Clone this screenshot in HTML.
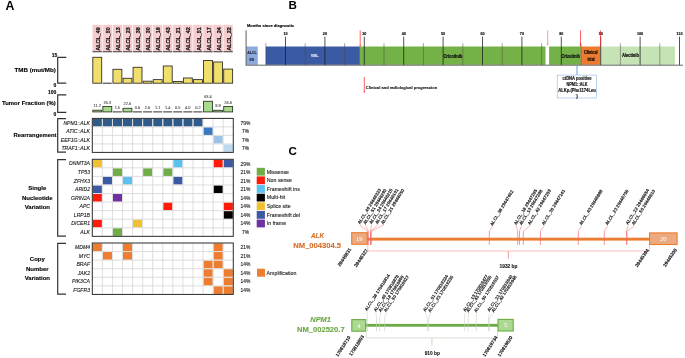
<!DOCTYPE html>
<html><head><meta charset="utf-8"><style>
html,body{margin:0;padding:0;background:#fff;}
svg{display:block;will-change:transform;}
text{font-family:"Liberation Sans", sans-serif;}
</style></head><body>
<svg width="685" height="358" viewBox="0 0 685 358">
<rect width="685" height="358" fill="#fff"/>
<text x="5.50" y="9.60" font-size="12.3" font-weight="bold" font-style="normal" text-anchor="start" fill="#000" >A</text>
<text x="288.60" y="9.25" font-size="11.6" font-weight="bold" font-style="normal" text-anchor="start" fill="#000" >B</text>
<text x="288.40" y="155.10" font-size="11.6" font-weight="bold" font-style="normal" text-anchor="start" fill="#000" >C</text>
<rect x="92.50" y="24.80" width="9.40" height="26.40" fill="#f6cdcf" stroke="none" stroke-width="0" />
<rect x="92.50" y="51.10" width="9.40" height="1.20" fill="#5a5052" stroke="none" stroke-width="0" />
<text transform="translate(99.80,50.7) rotate(-90)" font-size="5.8" font-weight="bold" fill="#111" stroke="#111" stroke-width="0.2" textLength="23.6" lengthAdjust="spacingAndGlyphs">ALCL_49</text>
<rect x="102.57" y="24.80" width="9.40" height="26.40" fill="#f6cdcf" stroke="none" stroke-width="0" />
<rect x="102.57" y="51.10" width="9.40" height="1.20" fill="#5a5052" stroke="none" stroke-width="0" />
<text transform="translate(109.87,50.7) rotate(-90)" font-size="5.8" font-weight="bold" fill="#111" stroke="#111" stroke-width="0.2" textLength="23.6" lengthAdjust="spacingAndGlyphs">ALCL_50</text>
<rect x="112.64" y="24.80" width="9.40" height="26.40" fill="#f6cdcf" stroke="none" stroke-width="0" />
<rect x="112.64" y="51.10" width="9.40" height="1.20" fill="#5a5052" stroke="none" stroke-width="0" />
<text transform="translate(119.94,50.7) rotate(-90)" font-size="5.8" font-weight="bold" fill="#111" stroke="#111" stroke-width="0.2" textLength="23.6" lengthAdjust="spacingAndGlyphs">ALCL_13</text>
<rect x="122.71" y="24.80" width="9.40" height="26.40" fill="#f6cdcf" stroke="none" stroke-width="0" />
<rect x="122.71" y="51.10" width="9.40" height="1.20" fill="#5a5052" stroke="none" stroke-width="0" />
<text transform="translate(130.01,50.7) rotate(-90)" font-size="5.8" font-weight="bold" fill="#111" stroke="#111" stroke-width="0.2" textLength="23.6" lengthAdjust="spacingAndGlyphs">ALCL_23</text>
<rect x="132.78" y="24.80" width="9.40" height="26.40" fill="#f6cdcf" stroke="none" stroke-width="0" />
<rect x="132.78" y="51.10" width="9.40" height="1.20" fill="#5a5052" stroke="none" stroke-width="0" />
<text transform="translate(140.08,50.7) rotate(-90)" font-size="5.8" font-weight="bold" fill="#111" stroke="#111" stroke-width="0.2" textLength="23.6" lengthAdjust="spacingAndGlyphs">ALCL_38</text>
<rect x="142.85" y="24.80" width="9.40" height="26.40" fill="#f6cdcf" stroke="none" stroke-width="0" />
<rect x="142.85" y="51.10" width="9.40" height="1.20" fill="#5a5052" stroke="none" stroke-width="0" />
<text transform="translate(150.15,50.7) rotate(-90)" font-size="5.8" font-weight="bold" fill="#111" stroke="#111" stroke-width="0.2" textLength="23.6" lengthAdjust="spacingAndGlyphs">ALCL_30</text>
<rect x="152.92" y="24.80" width="9.40" height="26.40" fill="#f6cdcf" stroke="none" stroke-width="0" />
<rect x="152.92" y="51.10" width="9.40" height="1.20" fill="#5a5052" stroke="none" stroke-width="0" />
<text transform="translate(160.22,50.7) rotate(-90)" font-size="5.8" font-weight="bold" fill="#111" stroke="#111" stroke-width="0.2" textLength="23.6" lengthAdjust="spacingAndGlyphs">ALCL_18</text>
<rect x="162.99" y="24.80" width="9.40" height="26.40" fill="#f6cdcf" stroke="none" stroke-width="0" />
<rect x="162.99" y="51.10" width="9.40" height="1.20" fill="#5a5052" stroke="none" stroke-width="0" />
<text transform="translate(170.29,50.7) rotate(-90)" font-size="5.8" font-weight="bold" fill="#111" stroke="#111" stroke-width="0.2" textLength="23.6" lengthAdjust="spacingAndGlyphs">ALCL_43</text>
<rect x="173.06" y="24.80" width="9.40" height="26.40" fill="#f6cdcf" stroke="none" stroke-width="0" />
<rect x="173.06" y="51.10" width="9.40" height="1.20" fill="#5a5052" stroke="none" stroke-width="0" />
<text transform="translate(180.36,50.7) rotate(-90)" font-size="5.8" font-weight="bold" fill="#111" stroke="#111" stroke-width="0.2" textLength="23.6" lengthAdjust="spacingAndGlyphs">ALCL_21</text>
<rect x="183.13" y="24.80" width="9.40" height="26.40" fill="#f6cdcf" stroke="none" stroke-width="0" />
<rect x="183.13" y="51.10" width="9.40" height="1.20" fill="#5a5052" stroke="none" stroke-width="0" />
<text transform="translate(190.43,50.7) rotate(-90)" font-size="5.8" font-weight="bold" fill="#111" stroke="#111" stroke-width="0.2" textLength="23.6" lengthAdjust="spacingAndGlyphs">ALCL_42</text>
<rect x="193.20" y="24.80" width="9.40" height="26.40" fill="#f6cdcf" stroke="none" stroke-width="0" />
<rect x="193.20" y="51.10" width="9.40" height="1.20" fill="#5a5052" stroke="none" stroke-width="0" />
<text transform="translate(200.50,50.7) rotate(-90)" font-size="5.8" font-weight="bold" fill="#111" stroke="#111" stroke-width="0.2" textLength="23.6" lengthAdjust="spacingAndGlyphs">ALCL_51</text>
<rect x="203.27" y="24.80" width="9.40" height="26.40" fill="#f6cdcf" stroke="none" stroke-width="0" />
<rect x="203.27" y="51.10" width="9.40" height="1.20" fill="#5a5052" stroke="none" stroke-width="0" />
<text transform="translate(210.57,50.7) rotate(-90)" font-size="5.8" font-weight="bold" fill="#111" stroke="#111" stroke-width="0.2" textLength="23.6" lengthAdjust="spacingAndGlyphs">ALCL_17</text>
<rect x="213.34" y="24.80" width="9.40" height="26.40" fill="#f6cdcf" stroke="none" stroke-width="0" />
<rect x="213.34" y="51.10" width="9.40" height="1.20" fill="#5a5052" stroke="none" stroke-width="0" />
<text transform="translate(220.64,50.7) rotate(-90)" font-size="5.8" font-weight="bold" fill="#111" stroke="#111" stroke-width="0.2" textLength="23.6" lengthAdjust="spacingAndGlyphs">ALCL_24</text>
<rect x="223.41" y="24.80" width="9.40" height="26.40" fill="#f6cdcf" stroke="none" stroke-width="0" />
<rect x="223.41" y="51.10" width="9.40" height="1.20" fill="#5a5052" stroke="none" stroke-width="0" />
<text transform="translate(230.71,50.7) rotate(-90)" font-size="5.8" font-weight="bold" fill="#111" stroke="#111" stroke-width="0.2" textLength="23.6" lengthAdjust="spacingAndGlyphs">ALCL_22</text>
<rect x="92.80" y="57.30" width="8.90" height="25.90" fill="#f1df6b" stroke="#34322a" stroke-width="0.9" />
<line x1="102.77" y1="83.20" x2="111.77" y2="83.20" stroke="#2a2a2a" stroke-width="1.0" />
<rect x="112.94" y="69.30" width="8.90" height="13.90" fill="#f1df6b" stroke="#34322a" stroke-width="0.9" />
<rect x="123.01" y="78.30" width="8.90" height="4.90" fill="#f1df6b" stroke="#34322a" stroke-width="0.9" />
<rect x="133.08" y="67.30" width="8.90" height="15.90" fill="#f1df6b" stroke="#34322a" stroke-width="0.9" />
<rect x="143.15" y="81.20" width="8.90" height="2.00" fill="#f1df6b" stroke="#34322a" stroke-width="0.9" />
<rect x="153.22" y="79.60" width="8.90" height="3.60" fill="#f1df6b" stroke="#34322a" stroke-width="0.9" />
<rect x="163.29" y="66.00" width="8.90" height="17.20" fill="#f1df6b" stroke="#34322a" stroke-width="0.9" />
<rect x="173.36" y="81.50" width="8.90" height="1.70" fill="#f1df6b" stroke="#34322a" stroke-width="0.9" />
<rect x="183.43" y="78.00" width="8.90" height="5.20" fill="#f1df6b" stroke="#34322a" stroke-width="0.9" />
<rect x="193.50" y="79.60" width="8.90" height="3.60" fill="#f1df6b" stroke="#34322a" stroke-width="0.9" />
<rect x="203.57" y="60.50" width="8.90" height="22.70" fill="#f1df6b" stroke="#34322a" stroke-width="0.9" />
<rect x="213.64" y="62.00" width="8.90" height="21.20" fill="#f1df6b" stroke="#34322a" stroke-width="0.9" />
<rect x="223.71" y="69.10" width="8.90" height="14.10" fill="#f1df6b" stroke="#34322a" stroke-width="0.9" />
<polyline points="66.30,57.30 57.70,57.30 57.70,83.20 66.30,83.20" fill="none" stroke="#333" stroke-width="1.2"/>
<text x="57.20" y="56.80" font-size="5.0" font-weight="bold" font-style="normal" text-anchor="end" fill="#000" stroke="#000" stroke-width="0.12" >15</text>
<text x="56.30" y="87.40" font-size="5.0" font-weight="bold" font-style="normal" text-anchor="end" fill="#000" stroke="#000" stroke-width="0.12" >0</text>
<text x="55.80" y="72.20" font-size="6.2" font-weight="bold" font-style="normal" text-anchor="end" fill="#000" stroke="#000" stroke-width="0.12" >TMB (mut/Mb)</text>
<rect x="92.80" y="110.20" width="8.90" height="1.70" fill="#a9db8c" stroke="#2e3a2a" stroke-width="0.9" />
<text x="97.20" y="107.20" font-size="3.9" font-weight="normal" font-style="normal" text-anchor="middle" fill="#555" stroke="#555" stroke-width="0.12" >11.2</text>
<rect x="102.87" y="106.50" width="8.90" height="5.40" fill="#a9db8c" stroke="#2e3a2a" stroke-width="0.9" />
<text x="107.27" y="103.50" font-size="3.9" font-weight="normal" font-style="normal" text-anchor="middle" fill="#555" stroke="#555" stroke-width="0.12" >35.3</text>
<line x1="112.84" y1="111.90" x2="121.84" y2="111.90" stroke="#2f2f2f" stroke-width="1.0" />
<text x="117.34" y="108.90" font-size="3.9" font-weight="normal" font-style="normal" text-anchor="middle" fill="#555" stroke="#555" stroke-width="0.12" >1.5</text>
<rect x="123.01" y="108.30" width="8.90" height="3.60" fill="#a9db8c" stroke="#2e3a2a" stroke-width="0.9" />
<text x="127.41" y="105.30" font-size="3.9" font-weight="normal" font-style="normal" text-anchor="middle" fill="#555" stroke="#555" stroke-width="0.12" >22.6</text>
<line x1="132.98" y1="111.90" x2="141.98" y2="111.90" stroke="#2f2f2f" stroke-width="1.0" />
<text x="137.48" y="108.90" font-size="3.9" font-weight="normal" font-style="normal" text-anchor="middle" fill="#555" stroke="#555" stroke-width="0.12" >0.6</text>
<line x1="143.05" y1="111.90" x2="152.05" y2="111.90" stroke="#2f2f2f" stroke-width="1.0" />
<text x="147.55" y="108.90" font-size="3.9" font-weight="normal" font-style="normal" text-anchor="middle" fill="#555" stroke="#555" stroke-width="0.12" >2.6</text>
<line x1="153.12" y1="111.90" x2="162.12" y2="111.90" stroke="#2f2f2f" stroke-width="1.0" />
<text x="157.62" y="108.90" font-size="3.9" font-weight="normal" font-style="normal" text-anchor="middle" fill="#555" stroke="#555" stroke-width="0.12" >1.1</text>
<line x1="163.19" y1="111.90" x2="172.19" y2="111.90" stroke="#2f2f2f" stroke-width="1.0" />
<text x="167.69" y="108.90" font-size="3.9" font-weight="normal" font-style="normal" text-anchor="middle" fill="#555" stroke="#555" stroke-width="0.12" >1.4</text>
<line x1="173.26" y1="111.90" x2="182.26" y2="111.90" stroke="#2f2f2f" stroke-width="1.0" />
<text x="177.76" y="108.90" font-size="3.9" font-weight="normal" font-style="normal" text-anchor="middle" fill="#555" stroke="#555" stroke-width="0.12" >0.5</text>
<line x1="183.33" y1="111.90" x2="192.33" y2="111.90" stroke="#2f2f2f" stroke-width="1.0" />
<text x="187.83" y="108.90" font-size="3.9" font-weight="normal" font-style="normal" text-anchor="middle" fill="#555" stroke="#555" stroke-width="0.12" >4.0</text>
<line x1="193.40" y1="111.90" x2="202.40" y2="111.90" stroke="#2f2f2f" stroke-width="1.0" />
<text x="197.90" y="108.90" font-size="3.9" font-weight="normal" font-style="normal" text-anchor="middle" fill="#555" stroke="#555" stroke-width="0.12" >0.2</text>
<rect x="203.57" y="101.30" width="8.90" height="10.60" fill="#a9db8c" stroke="#2e3a2a" stroke-width="0.9" />
<text x="207.97" y="98.30" font-size="3.9" font-weight="normal" font-style="normal" text-anchor="middle" fill="#555" stroke="#555" stroke-width="0.12" >63.4</text>
<rect x="213.64" y="110.30" width="8.90" height="1.60" fill="#a9db8c" stroke="#2e3a2a" stroke-width="0.9" />
<text x="218.04" y="107.30" font-size="3.9" font-weight="normal" font-style="normal" text-anchor="middle" fill="#555" stroke="#555" stroke-width="0.12" >9.9</text>
<rect x="223.71" y="106.50" width="8.90" height="5.40" fill="#a9db8c" stroke="#2e3a2a" stroke-width="0.9" />
<text x="228.11" y="103.50" font-size="3.9" font-weight="normal" font-style="normal" text-anchor="middle" fill="#555" stroke="#555" stroke-width="0.12" >26.6</text>
<polyline points="66.30,94.90 57.70,94.90 57.70,112.30 66.30,112.30" fill="none" stroke="#333" stroke-width="1.2"/>
<text x="56.30" y="94.20" font-size="5.0" font-weight="bold" font-style="normal" text-anchor="end" fill="#000" stroke="#000" stroke-width="0.12" >100</text>
<text x="56.30" y="116.40" font-size="5.0" font-weight="bold" font-style="normal" text-anchor="end" fill="#000" stroke="#000" stroke-width="0.12" >0</text>
<text x="55.80" y="105.20" font-size="5.92" font-weight="bold" font-style="normal" text-anchor="end" fill="#000" stroke="#000" stroke-width="0.12" >Tumor Fraction (%)</text>
<rect x="92.75" y="118.85" width="9.17" height="7.60" fill="#2f5b8b" stroke="none" stroke-width="0" />
<rect x="102.82" y="118.85" width="9.17" height="7.60" fill="#2f5b8b" stroke="none" stroke-width="0" />
<rect x="112.89" y="118.85" width="9.17" height="7.60" fill="#2f5b8b" stroke="none" stroke-width="0" />
<rect x="122.96" y="118.85" width="9.17" height="7.60" fill="#2f5b8b" stroke="none" stroke-width="0" />
<rect x="133.03" y="118.85" width="9.17" height="7.60" fill="#2f5b8b" stroke="none" stroke-width="0" />
<rect x="143.10" y="118.85" width="9.17" height="7.60" fill="#2f5b8b" stroke="none" stroke-width="0" />
<rect x="153.17" y="118.85" width="9.17" height="7.60" fill="#2f5b8b" stroke="none" stroke-width="0" />
<rect x="163.24" y="118.85" width="9.17" height="7.60" fill="#2f5b8b" stroke="none" stroke-width="0" />
<rect x="173.31" y="118.85" width="9.17" height="7.60" fill="#2f5b8b" stroke="none" stroke-width="0" />
<rect x="183.38" y="118.85" width="9.17" height="7.60" fill="#2f5b8b" stroke="none" stroke-width="0" />
<rect x="193.45" y="118.85" width="9.17" height="7.60" fill="#2f5b8b" stroke="none" stroke-width="0" />
<rect x="203.52" y="127.35" width="9.17" height="7.60" fill="#3c77c1" stroke="none" stroke-width="0" />
<rect x="213.59" y="135.85" width="9.17" height="7.60" fill="#9cc3e6" stroke="none" stroke-width="0" />
<rect x="223.66" y="144.35" width="9.17" height="7.60" fill="#bed8ef" stroke="none" stroke-width="0" />
<line x1="102.37" y1="118.40" x2="102.37" y2="152.40" stroke="#d6d6d6" stroke-width="0.8" />
<line x1="112.44" y1="118.40" x2="112.44" y2="152.40" stroke="#d6d6d6" stroke-width="0.8" />
<line x1="122.51" y1="118.40" x2="122.51" y2="152.40" stroke="#d6d6d6" stroke-width="0.8" />
<line x1="132.58" y1="118.40" x2="132.58" y2="152.40" stroke="#d6d6d6" stroke-width="0.8" />
<line x1="142.65" y1="118.40" x2="142.65" y2="152.40" stroke="#d6d6d6" stroke-width="0.8" />
<line x1="152.72" y1="118.40" x2="152.72" y2="152.40" stroke="#d6d6d6" stroke-width="0.8" />
<line x1="162.79" y1="118.40" x2="162.79" y2="152.40" stroke="#d6d6d6" stroke-width="0.8" />
<line x1="172.86" y1="118.40" x2="172.86" y2="152.40" stroke="#d6d6d6" stroke-width="0.8" />
<line x1="182.93" y1="118.40" x2="182.93" y2="152.40" stroke="#d6d6d6" stroke-width="0.8" />
<line x1="193.00" y1="118.40" x2="193.00" y2="152.40" stroke="#d6d6d6" stroke-width="0.8" />
<line x1="203.07" y1="118.40" x2="203.07" y2="152.40" stroke="#d6d6d6" stroke-width="0.8" />
<line x1="213.14" y1="118.40" x2="213.14" y2="152.40" stroke="#d6d6d6" stroke-width="0.8" />
<line x1="223.21" y1="118.40" x2="223.21" y2="152.40" stroke="#d6d6d6" stroke-width="0.8" />
<line x1="92.30" y1="126.90" x2="233.28" y2="126.90" stroke="#d6d6d6" stroke-width="0.8" />
<line x1="92.30" y1="135.40" x2="233.28" y2="135.40" stroke="#d6d6d6" stroke-width="0.8" />
<line x1="92.30" y1="143.90" x2="233.28" y2="143.90" stroke="#d6d6d6" stroke-width="0.8" />
<rect x="92.30" y="118.40" width="140.98" height="34.00" fill="none" stroke="#2b2b2b" stroke-width="1.0" />
<text x="90.00" y="124.50" font-size="5.1" font-weight="normal" font-style="italic" text-anchor="end" fill="#222" stroke="#222" stroke-width="0.12" >NPM1::ALK</text>
<text x="245.50" y="124.60" font-size="4.9" font-weight="normal" font-style="normal" text-anchor="middle" fill="#222" stroke="#222" stroke-width="0.12" >79%</text>
<text x="90.00" y="133.00" font-size="5.1" font-weight="normal" font-style="italic" text-anchor="end" fill="#222" stroke="#222" stroke-width="0.12" >ATIC::ALK</text>
<text x="245.50" y="133.10" font-size="4.9" font-weight="normal" font-style="normal" text-anchor="middle" fill="#222" stroke="#222" stroke-width="0.12" >7%</text>
<text x="90.00" y="141.50" font-size="5.1" font-weight="normal" font-style="italic" text-anchor="end" fill="#222" stroke="#222" stroke-width="0.12" >EEF1G::ALK</text>
<text x="245.50" y="141.60" font-size="4.9" font-weight="normal" font-style="normal" text-anchor="middle" fill="#222" stroke="#222" stroke-width="0.12" >7%</text>
<text x="90.00" y="150.00" font-size="5.1" font-weight="normal" font-style="italic" text-anchor="end" fill="#222" stroke="#222" stroke-width="0.12" >TRAF1::ALK</text>
<text x="245.50" y="150.10" font-size="4.9" font-weight="normal" font-style="normal" text-anchor="middle" fill="#222" stroke="#222" stroke-width="0.12" >7%</text>
<polyline points="66.00,118.70 57.70,118.70 57.70,152.10 66.00,152.10" fill="none" stroke="#333" stroke-width="1.2"/>
<text x="35.00" y="137.00" font-size="5.85" font-weight="bold" font-style="normal" text-anchor="middle" fill="#000" stroke="#000" stroke-width="0.12" >Rearrangement</text>
<rect x="92.75" y="159.75" width="9.17" height="7.66" fill="#f0c030" stroke="none" stroke-width="0" />
<rect x="173.31" y="159.75" width="9.17" height="7.66" fill="#5bc1ef" stroke="none" stroke-width="0" />
<rect x="213.59" y="159.75" width="9.17" height="7.66" fill="#ff1a0a" stroke="none" stroke-width="0" />
<rect x="223.66" y="159.75" width="9.17" height="7.66" fill="#3b5aa3" stroke="none" stroke-width="0" />
<rect x="112.89" y="168.31" width="9.17" height="7.66" fill="#70ad47" stroke="none" stroke-width="0" />
<rect x="143.10" y="168.31" width="9.17" height="7.66" fill="#70ad47" stroke="none" stroke-width="0" />
<rect x="163.24" y="168.31" width="9.17" height="7.66" fill="#70ad47" stroke="none" stroke-width="0" />
<rect x="102.82" y="176.87" width="9.17" height="7.66" fill="#3b5aa3" stroke="none" stroke-width="0" />
<rect x="122.96" y="176.87" width="9.17" height="7.66" fill="#5bc1ef" stroke="none" stroke-width="0" />
<rect x="173.31" y="176.87" width="9.17" height="7.66" fill="#3b5aa3" stroke="none" stroke-width="0" />
<rect x="92.75" y="185.43" width="9.17" height="7.66" fill="#3b5aa3" stroke="none" stroke-width="0" />
<rect x="213.59" y="185.43" width="9.17" height="7.66" fill="#000000" stroke="none" stroke-width="0" />
<rect x="92.75" y="193.99" width="9.17" height="7.66" fill="#ff1a0a" stroke="none" stroke-width="0" />
<rect x="112.89" y="193.99" width="9.17" height="7.66" fill="#7030a0" stroke="none" stroke-width="0" />
<rect x="163.24" y="202.55" width="9.17" height="7.66" fill="#ff1a0a" stroke="none" stroke-width="0" />
<rect x="223.66" y="202.55" width="9.17" height="7.66" fill="#ff1a0a" stroke="none" stroke-width="0" />
<rect x="223.66" y="211.11" width="9.17" height="7.66" fill="#000000" stroke="none" stroke-width="0" />
<rect x="92.75" y="219.67" width="9.17" height="7.66" fill="#ff1a0a" stroke="none" stroke-width="0" />
<rect x="133.03" y="219.67" width="9.17" height="7.66" fill="#f0c030" stroke="none" stroke-width="0" />
<rect x="112.89" y="228.23" width="9.17" height="7.66" fill="#70ad47" stroke="none" stroke-width="0" />
<line x1="102.37" y1="159.30" x2="102.37" y2="236.34" stroke="#d6d6d6" stroke-width="0.8" />
<line x1="112.44" y1="159.30" x2="112.44" y2="236.34" stroke="#d6d6d6" stroke-width="0.8" />
<line x1="122.51" y1="159.30" x2="122.51" y2="236.34" stroke="#d6d6d6" stroke-width="0.8" />
<line x1="132.58" y1="159.30" x2="132.58" y2="236.34" stroke="#d6d6d6" stroke-width="0.8" />
<line x1="142.65" y1="159.30" x2="142.65" y2="236.34" stroke="#d6d6d6" stroke-width="0.8" />
<line x1="152.72" y1="159.30" x2="152.72" y2="236.34" stroke="#d6d6d6" stroke-width="0.8" />
<line x1="162.79" y1="159.30" x2="162.79" y2="236.34" stroke="#d6d6d6" stroke-width="0.8" />
<line x1="172.86" y1="159.30" x2="172.86" y2="236.34" stroke="#d6d6d6" stroke-width="0.8" />
<line x1="182.93" y1="159.30" x2="182.93" y2="236.34" stroke="#d6d6d6" stroke-width="0.8" />
<line x1="193.00" y1="159.30" x2="193.00" y2="236.34" stroke="#d6d6d6" stroke-width="0.8" />
<line x1="203.07" y1="159.30" x2="203.07" y2="236.34" stroke="#d6d6d6" stroke-width="0.8" />
<line x1="213.14" y1="159.30" x2="213.14" y2="236.34" stroke="#d6d6d6" stroke-width="0.8" />
<line x1="223.21" y1="159.30" x2="223.21" y2="236.34" stroke="#d6d6d6" stroke-width="0.8" />
<line x1="92.30" y1="167.86" x2="233.28" y2="167.86" stroke="#d6d6d6" stroke-width="0.8" />
<line x1="92.30" y1="176.42" x2="233.28" y2="176.42" stroke="#d6d6d6" stroke-width="0.8" />
<line x1="92.30" y1="184.98" x2="233.28" y2="184.98" stroke="#d6d6d6" stroke-width="0.8" />
<line x1="92.30" y1="193.54" x2="233.28" y2="193.54" stroke="#d6d6d6" stroke-width="0.8" />
<line x1="92.30" y1="202.10" x2="233.28" y2="202.10" stroke="#d6d6d6" stroke-width="0.8" />
<line x1="92.30" y1="210.66" x2="233.28" y2="210.66" stroke="#d6d6d6" stroke-width="0.8" />
<line x1="92.30" y1="219.22" x2="233.28" y2="219.22" stroke="#d6d6d6" stroke-width="0.8" />
<line x1="92.30" y1="227.78" x2="233.28" y2="227.78" stroke="#d6d6d6" stroke-width="0.8" />
<rect x="92.30" y="159.30" width="140.98" height="77.04" fill="none" stroke="#2b2b2b" stroke-width="1.0" />
<text x="90.00" y="165.40" font-size="5.1" font-weight="normal" font-style="italic" text-anchor="end" fill="#222" stroke="#222" stroke-width="0.12" >DNMT3A</text>
<text x="245.50" y="165.50" font-size="4.9" font-weight="normal" font-style="normal" text-anchor="middle" fill="#222" stroke="#222" stroke-width="0.12" >29%</text>
<text x="90.00" y="173.96" font-size="5.1" font-weight="normal" font-style="italic" text-anchor="end" fill="#222" stroke="#222" stroke-width="0.12" >TP53</text>
<text x="245.50" y="174.06" font-size="4.9" font-weight="normal" font-style="normal" text-anchor="middle" fill="#222" stroke="#222" stroke-width="0.12" >21%</text>
<text x="90.00" y="182.52" font-size="5.1" font-weight="normal" font-style="italic" text-anchor="end" fill="#222" stroke="#222" stroke-width="0.12" >ZFHX3</text>
<text x="245.50" y="182.62" font-size="4.9" font-weight="normal" font-style="normal" text-anchor="middle" fill="#222" stroke="#222" stroke-width="0.12" >21%</text>
<text x="90.00" y="191.08" font-size="5.1" font-weight="normal" font-style="italic" text-anchor="end" fill="#222" stroke="#222" stroke-width="0.12" >ARID2</text>
<text x="245.50" y="191.18" font-size="4.9" font-weight="normal" font-style="normal" text-anchor="middle" fill="#222" stroke="#222" stroke-width="0.12" >21%</text>
<text x="90.00" y="199.64" font-size="5.1" font-weight="normal" font-style="italic" text-anchor="end" fill="#222" stroke="#222" stroke-width="0.12" >GRIN2A</text>
<text x="245.50" y="199.74" font-size="4.9" font-weight="normal" font-style="normal" text-anchor="middle" fill="#222" stroke="#222" stroke-width="0.12" >14%</text>
<text x="90.00" y="208.20" font-size="5.1" font-weight="normal" font-style="italic" text-anchor="end" fill="#222" stroke="#222" stroke-width="0.12" >APC</text>
<text x="245.50" y="208.30" font-size="4.9" font-weight="normal" font-style="normal" text-anchor="middle" fill="#222" stroke="#222" stroke-width="0.12" >14%</text>
<text x="90.00" y="216.76" font-size="5.1" font-weight="normal" font-style="italic" text-anchor="end" fill="#222" stroke="#222" stroke-width="0.12" >LRP1B</text>
<text x="245.50" y="216.86" font-size="4.9" font-weight="normal" font-style="normal" text-anchor="middle" fill="#222" stroke="#222" stroke-width="0.12" >14%</text>
<text x="90.00" y="225.32" font-size="5.1" font-weight="normal" font-style="italic" text-anchor="end" fill="#222" stroke="#222" stroke-width="0.12" >DICER1</text>
<text x="245.50" y="225.42" font-size="4.9" font-weight="normal" font-style="normal" text-anchor="middle" fill="#222" stroke="#222" stroke-width="0.12" >14%</text>
<text x="90.00" y="233.88" font-size="5.1" font-weight="normal" font-style="italic" text-anchor="end" fill="#222" stroke="#222" stroke-width="0.12" >ALK</text>
<text x="245.50" y="233.98" font-size="4.9" font-weight="normal" font-style="normal" text-anchor="middle" fill="#222" stroke="#222" stroke-width="0.12" >7%</text>
<polyline points="66.00,159.60 57.70,159.60 57.70,236.04 66.00,236.04" fill="none" stroke="#333" stroke-width="1.2"/>
<text x="37.30" y="189.80" font-size="6.0" font-weight="bold" font-style="normal" text-anchor="middle" fill="#000" stroke="#000" stroke-width="0.12" >Single</text>
<text x="37.30" y="199.50" font-size="6.0" font-weight="bold" font-style="normal" text-anchor="middle" fill="#000" stroke="#000" stroke-width="0.12" >Nucleotide</text>
<text x="37.30" y="209.30" font-size="6.0" font-weight="bold" font-style="normal" text-anchor="middle" fill="#000" stroke="#000" stroke-width="0.12" >Variation</text>
<rect x="92.75" y="243.45" width="9.17" height="7.67" fill="#ed7d31" stroke="none" stroke-width="0" />
<rect x="122.96" y="243.45" width="9.17" height="7.67" fill="#ed7d31" stroke="none" stroke-width="0" />
<rect x="213.59" y="243.45" width="9.17" height="7.67" fill="#ed7d31" stroke="none" stroke-width="0" />
<rect x="102.82" y="252.02" width="9.17" height="7.67" fill="#ed7d31" stroke="none" stroke-width="0" />
<rect x="122.96" y="252.02" width="9.17" height="7.67" fill="#ed7d31" stroke="none" stroke-width="0" />
<rect x="213.59" y="252.02" width="9.17" height="7.67" fill="#ed7d31" stroke="none" stroke-width="0" />
<rect x="203.52" y="260.59" width="9.17" height="7.67" fill="#ed7d31" stroke="none" stroke-width="0" />
<rect x="213.59" y="260.59" width="9.17" height="7.67" fill="#ed7d31" stroke="none" stroke-width="0" />
<rect x="203.52" y="269.16" width="9.17" height="7.67" fill="#ed7d31" stroke="none" stroke-width="0" />
<rect x="223.66" y="269.16" width="9.17" height="7.67" fill="#ed7d31" stroke="none" stroke-width="0" />
<rect x="203.52" y="277.73" width="9.17" height="7.67" fill="#ed7d31" stroke="none" stroke-width="0" />
<rect x="223.66" y="277.73" width="9.17" height="7.67" fill="#ed7d31" stroke="none" stroke-width="0" />
<rect x="213.59" y="286.30" width="9.17" height="7.67" fill="#ed7d31" stroke="none" stroke-width="0" />
<rect x="223.66" y="286.30" width="9.17" height="7.67" fill="#ed7d31" stroke="none" stroke-width="0" />
<line x1="102.37" y1="243.00" x2="102.37" y2="294.42" stroke="#d6d6d6" stroke-width="0.8" />
<line x1="112.44" y1="243.00" x2="112.44" y2="294.42" stroke="#d6d6d6" stroke-width="0.8" />
<line x1="122.51" y1="243.00" x2="122.51" y2="294.42" stroke="#d6d6d6" stroke-width="0.8" />
<line x1="132.58" y1="243.00" x2="132.58" y2="294.42" stroke="#d6d6d6" stroke-width="0.8" />
<line x1="142.65" y1="243.00" x2="142.65" y2="294.42" stroke="#d6d6d6" stroke-width="0.8" />
<line x1="152.72" y1="243.00" x2="152.72" y2="294.42" stroke="#d6d6d6" stroke-width="0.8" />
<line x1="162.79" y1="243.00" x2="162.79" y2="294.42" stroke="#d6d6d6" stroke-width="0.8" />
<line x1="172.86" y1="243.00" x2="172.86" y2="294.42" stroke="#d6d6d6" stroke-width="0.8" />
<line x1="182.93" y1="243.00" x2="182.93" y2="294.42" stroke="#d6d6d6" stroke-width="0.8" />
<line x1="193.00" y1="243.00" x2="193.00" y2="294.42" stroke="#d6d6d6" stroke-width="0.8" />
<line x1="203.07" y1="243.00" x2="203.07" y2="294.42" stroke="#d6d6d6" stroke-width="0.8" />
<line x1="213.14" y1="243.00" x2="213.14" y2="294.42" stroke="#d6d6d6" stroke-width="0.8" />
<line x1="223.21" y1="243.00" x2="223.21" y2="294.42" stroke="#d6d6d6" stroke-width="0.8" />
<line x1="92.30" y1="251.57" x2="233.28" y2="251.57" stroke="#d6d6d6" stroke-width="0.8" />
<line x1="92.30" y1="260.14" x2="233.28" y2="260.14" stroke="#d6d6d6" stroke-width="0.8" />
<line x1="92.30" y1="268.71" x2="233.28" y2="268.71" stroke="#d6d6d6" stroke-width="0.8" />
<line x1="92.30" y1="277.28" x2="233.28" y2="277.28" stroke="#d6d6d6" stroke-width="0.8" />
<line x1="92.30" y1="285.85" x2="233.28" y2="285.85" stroke="#d6d6d6" stroke-width="0.8" />
<rect x="92.30" y="243.00" width="140.98" height="51.42" fill="none" stroke="#2b2b2b" stroke-width="1.0" />
<text x="90.00" y="249.10" font-size="5.1" font-weight="normal" font-style="italic" text-anchor="end" fill="#222" stroke="#222" stroke-width="0.12" >MDM4</text>
<text x="245.50" y="249.20" font-size="4.9" font-weight="normal" font-style="normal" text-anchor="middle" fill="#222" stroke="#222" stroke-width="0.12" >21%</text>
<text x="90.00" y="257.67" font-size="5.1" font-weight="normal" font-style="italic" text-anchor="end" fill="#222" stroke="#222" stroke-width="0.12" >MYC</text>
<text x="245.50" y="257.77" font-size="4.9" font-weight="normal" font-style="normal" text-anchor="middle" fill="#222" stroke="#222" stroke-width="0.12" >21%</text>
<text x="90.00" y="266.24" font-size="5.1" font-weight="normal" font-style="italic" text-anchor="end" fill="#222" stroke="#222" stroke-width="0.12" >BRAF</text>
<text x="245.50" y="266.34" font-size="4.9" font-weight="normal" font-style="normal" text-anchor="middle" fill="#222" stroke="#222" stroke-width="0.12" >14%</text>
<text x="90.00" y="274.81" font-size="5.1" font-weight="normal" font-style="italic" text-anchor="end" fill="#222" stroke="#222" stroke-width="0.12" >JAK2</text>
<text x="245.50" y="274.91" font-size="4.9" font-weight="normal" font-style="normal" text-anchor="middle" fill="#222" stroke="#222" stroke-width="0.12" >14%</text>
<text x="90.00" y="283.38" font-size="5.1" font-weight="normal" font-style="italic" text-anchor="end" fill="#222" stroke="#222" stroke-width="0.12" >PIK3CA</text>
<text x="245.50" y="283.48" font-size="4.9" font-weight="normal" font-style="normal" text-anchor="middle" fill="#222" stroke="#222" stroke-width="0.12" >14%</text>
<text x="90.00" y="291.95" font-size="5.1" font-weight="normal" font-style="italic" text-anchor="end" fill="#222" stroke="#222" stroke-width="0.12" >FGFR3</text>
<text x="245.50" y="292.05" font-size="4.9" font-weight="normal" font-style="normal" text-anchor="middle" fill="#222" stroke="#222" stroke-width="0.12" >14%</text>
<polyline points="66.00,243.30 57.70,243.30 57.70,294.12 66.00,294.12" fill="none" stroke="#333" stroke-width="1.2"/>
<text x="37.30" y="260.90" font-size="6.0" font-weight="bold" font-style="normal" text-anchor="middle" fill="#000" stroke="#000" stroke-width="0.12" >Copy</text>
<text x="37.30" y="270.50" font-size="6.0" font-weight="bold" font-style="normal" text-anchor="middle" fill="#000" stroke="#000" stroke-width="0.12" >Number</text>
<text x="37.30" y="279.90" font-size="6.0" font-weight="bold" font-style="normal" text-anchor="middle" fill="#000" stroke="#000" stroke-width="0.12" >Variation</text>
<rect x="256.70" y="167.80" width="8.20" height="7.80" fill="#70ad47" stroke="none" stroke-width="0" />
<text x="266.80" y="173.60" font-size="5.25" font-weight="normal" font-style="normal" text-anchor="start" fill="#222" stroke="#222" stroke-width="0.12" >Missense</text>
<rect x="256.70" y="176.43" width="8.20" height="7.80" fill="#ff1a0a" stroke="none" stroke-width="0" />
<text x="266.80" y="182.23" font-size="5.25" font-weight="normal" font-style="normal" text-anchor="start" fill="#222" stroke="#222" stroke-width="0.12" >Non sense</text>
<rect x="256.70" y="185.06" width="8.20" height="7.80" fill="#5bc1ef" stroke="none" stroke-width="0" />
<text x="266.80" y="190.86" font-size="5.25" font-weight="normal" font-style="normal" text-anchor="start" fill="#222" stroke="#222" stroke-width="0.12" >Frameshift ins</text>
<rect x="256.70" y="193.69" width="8.20" height="7.80" fill="#000000" stroke="none" stroke-width="0" />
<text x="266.80" y="199.49" font-size="5.25" font-weight="normal" font-style="normal" text-anchor="start" fill="#222" stroke="#222" stroke-width="0.12" >Multi-hit</text>
<rect x="256.70" y="202.32" width="8.20" height="7.80" fill="#f0c030" stroke="none" stroke-width="0" />
<text x="266.80" y="208.12" font-size="5.25" font-weight="normal" font-style="normal" text-anchor="start" fill="#222" stroke="#222" stroke-width="0.12" >Splice site</text>
<rect x="256.70" y="210.95" width="8.20" height="7.80" fill="#3b5aa3" stroke="none" stroke-width="0" />
<text x="266.80" y="216.75" font-size="5.25" font-weight="normal" font-style="normal" text-anchor="start" fill="#222" stroke="#222" stroke-width="0.12" >Frameshift del</text>
<rect x="256.70" y="219.58" width="8.20" height="7.80" fill="#7030a0" stroke="none" stroke-width="0" />
<text x="266.80" y="225.38" font-size="5.25" font-weight="normal" font-style="normal" text-anchor="start" fill="#222" stroke="#222" stroke-width="0.12" >In frame</text>
<rect x="257.00" y="268.70" width="8.00" height="8.00" fill="#ed7d31" stroke="none" stroke-width="0" />
<text x="266.60" y="274.70" font-size="5.25" font-weight="normal" font-style="normal" text-anchor="start" fill="#222" stroke="#222" stroke-width="0.12" >Amplification</text>
<text x="247.00" y="26.70" font-size="4.1" font-weight="bold" font-style="normal" text-anchor="start" fill="#000" stroke="#000" stroke-width="0.12" textLength="47.0" lengthAdjust="spacingAndGlyphs" >Months since diagnostic</text>
<rect x="246.40" y="46.50" width="11.40" height="18.30" fill="#8eaadb" stroke="none" stroke-width="0" />
<rect x="265.80" y="46.50" width="94.10" height="18.30" fill="#3a5aa4" stroke="none" stroke-width="0" />
<rect x="359.90" y="46.50" width="185.60" height="18.30" fill="#74b247" stroke="none" stroke-width="0" />
<rect x="549.10" y="46.50" width="31.70" height="18.30" fill="#74b247" stroke="none" stroke-width="0" />
<rect x="580.80" y="46.50" width="19.70" height="18.30" fill="#ec7b30" stroke="none" stroke-width="0" />
<rect x="600.50" y="46.50" width="74.40" height="18.30" fill="#c6e3b5" stroke="none" stroke-width="0" />
<line x1="265.80" y1="43.20" x2="265.80" y2="65.20" stroke="#4a4a4a" stroke-width="0.5" />
<line x1="305.20" y1="43.20" x2="305.20" y2="65.20" stroke="#4a4a4a" stroke-width="0.5" />
<line x1="344.60" y1="43.20" x2="344.60" y2="65.20" stroke="#4a4a4a" stroke-width="0.5" />
<line x1="384.00" y1="43.20" x2="384.00" y2="65.20" stroke="#4a4a4a" stroke-width="0.5" />
<line x1="423.40" y1="43.20" x2="423.40" y2="65.20" stroke="#4a4a4a" stroke-width="0.5" />
<line x1="462.80" y1="43.20" x2="462.80" y2="65.20" stroke="#4a4a4a" stroke-width="0.5" />
<line x1="502.20" y1="43.20" x2="502.20" y2="65.20" stroke="#4a4a4a" stroke-width="0.5" />
<line x1="541.60" y1="43.20" x2="541.60" y2="65.20" stroke="#4a4a4a" stroke-width="0.5" />
<line x1="581.00" y1="43.20" x2="581.00" y2="65.20" stroke="#4a4a4a" stroke-width="0.5" />
<line x1="620.40" y1="43.20" x2="620.40" y2="65.20" stroke="#4a4a4a" stroke-width="0.5" />
<line x1="659.80" y1="43.20" x2="659.80" y2="65.20" stroke="#4a4a4a" stroke-width="0.5" />
<line x1="285.50" y1="36.60" x2="285.50" y2="65.20" stroke="#1a1a1a" stroke-width="0.75" />
<text x="285.50" y="35.20" font-size="3.7" font-weight="bold" font-style="normal" text-anchor="middle" fill="#000" stroke="#000" stroke-width="0.12" >10</text>
<line x1="324.90" y1="36.60" x2="324.90" y2="65.20" stroke="#1a1a1a" stroke-width="0.75" />
<text x="324.90" y="35.20" font-size="3.7" font-weight="bold" font-style="normal" text-anchor="middle" fill="#000" stroke="#000" stroke-width="0.12" >20</text>
<line x1="364.30" y1="36.60" x2="364.30" y2="65.20" stroke="#1a1a1a" stroke-width="0.75" />
<text x="364.30" y="35.20" font-size="3.7" font-weight="bold" font-style="normal" text-anchor="middle" fill="#000" stroke="#000" stroke-width="0.12" >30</text>
<line x1="403.70" y1="36.60" x2="403.70" y2="65.20" stroke="#1a1a1a" stroke-width="0.75" />
<text x="403.70" y="35.20" font-size="3.7" font-weight="bold" font-style="normal" text-anchor="middle" fill="#000" stroke="#000" stroke-width="0.12" >40</text>
<line x1="443.10" y1="36.60" x2="443.10" y2="65.20" stroke="#1a1a1a" stroke-width="0.75" />
<text x="443.10" y="35.20" font-size="3.7" font-weight="bold" font-style="normal" text-anchor="middle" fill="#000" stroke="#000" stroke-width="0.12" >50</text>
<line x1="482.50" y1="36.60" x2="482.50" y2="65.20" stroke="#1a1a1a" stroke-width="0.75" />
<text x="482.50" y="35.20" font-size="3.7" font-weight="bold" font-style="normal" text-anchor="middle" fill="#000" stroke="#000" stroke-width="0.12" >60</text>
<line x1="521.90" y1="36.60" x2="521.90" y2="65.20" stroke="#1a1a1a" stroke-width="0.75" />
<text x="521.90" y="35.20" font-size="3.7" font-weight="bold" font-style="normal" text-anchor="middle" fill="#000" stroke="#000" stroke-width="0.12" >70</text>
<line x1="561.30" y1="36.60" x2="561.30" y2="65.20" stroke="#1a1a1a" stroke-width="0.75" />
<text x="561.30" y="35.20" font-size="3.7" font-weight="bold" font-style="normal" text-anchor="middle" fill="#000" stroke="#000" stroke-width="0.12" >80</text>
<line x1="600.70" y1="36.60" x2="600.70" y2="65.20" stroke="#1a1a1a" stroke-width="0.75" />
<text x="600.70" y="35.20" font-size="3.7" font-weight="bold" font-style="normal" text-anchor="middle" fill="#000" stroke="#000" stroke-width="0.12" >90</text>
<line x1="640.10" y1="36.60" x2="640.10" y2="65.20" stroke="#1a1a1a" stroke-width="0.75" />
<text x="640.10" y="35.20" font-size="3.7" font-weight="bold" font-style="normal" text-anchor="middle" fill="#000" stroke="#000" stroke-width="0.12" >100</text>
<line x1="679.50" y1="36.60" x2="679.50" y2="65.20" stroke="#1a1a1a" stroke-width="0.75" />
<text x="679.50" y="35.20" font-size="3.7" font-weight="bold" font-style="normal" text-anchor="middle" fill="#000" stroke="#000" stroke-width="0.12" >110</text>
<line x1="246.10" y1="30.30" x2="246.10" y2="65.60" stroke="#333" stroke-width="0.8" />
<line x1="246.10" y1="65.20" x2="683.00" y2="65.20" stroke="#555" stroke-width="0.9" />
<text x="252.00" y="54.20" font-size="3.6" font-weight="bold" font-style="normal" text-anchor="middle" fill="#1a2540" stroke="#1a2540" stroke-width="0.12" >ALCL</text>
<text x="251.70" y="60.60" font-size="4.2" font-weight="bold" font-style="normal" text-anchor="middle" fill="#1a2540" stroke="#1a2540" stroke-width="0.12" >99</text>
<text x="314.70" y="57.40" font-size="4.0" font-weight="bold" font-style="normal" text-anchor="middle" fill="#fff" >VBL</text>
<text x="452.85" y="57.60" font-size="4.6" font-weight="bold" font-style="normal" text-anchor="middle" fill="#111" stroke="#111" stroke-width="0.22" textLength="18.9" lengthAdjust="spacingAndGlyphs" >Crizotinib</text>
<text x="570.70" y="57.60" font-size="4.6" font-weight="bold" font-style="normal" text-anchor="middle" fill="#111" stroke="#111" stroke-width="0.22" textLength="18.6" lengthAdjust="spacingAndGlyphs" >Crizotinib</text>
<text x="590.80" y="54.30" font-size="4.6" font-weight="bold" font-style="normal" text-anchor="middle" fill="#1a0d05" stroke="#1a0d05" stroke-width="0.22" textLength="13.8" lengthAdjust="spacingAndGlyphs" >Clinical</text>
<text x="591.10" y="60.50" font-size="4.6" font-weight="bold" font-style="normal" text-anchor="middle" fill="#1a0d05" stroke="#1a0d05" stroke-width="0.22" textLength="7.2" lengthAdjust="spacingAndGlyphs" >trial</text>
<text x="630.40" y="57.30" font-size="4.6" font-weight="bold" font-style="normal" text-anchor="middle" fill="#111" stroke="#111" stroke-width="0.22" textLength="17.0" lengthAdjust="spacingAndGlyphs" >Alectinib</text>
<line x1="360.20" y1="30.40" x2="360.20" y2="45.30" stroke="#ff2020" stroke-width="0.7" />
<polygon points="359.30,44.90 361.10,44.90 360.20,46.50" fill="#ff2020"/>
<line x1="547.70" y1="30.40" x2="547.70" y2="44.20" stroke="#ff7070" stroke-width="0.7" />
<polygon points="546.80,43.80 548.60,43.80 547.70,45.40" fill="#ff7070"/>
<line x1="580.50" y1="30.40" x2="580.50" y2="45.30" stroke="#ff2020" stroke-width="0.7" />
<polygon points="579.60,44.90 581.40,44.90 580.50,46.50" fill="#ff2020"/>
<line x1="600.50" y1="30.40" x2="600.50" y2="45.30" stroke="#ff2020" stroke-width="0.7" />
<polygon points="599.60,44.90 601.40,44.90 600.50,46.50" fill="#ff2020"/>
<line x1="364.30" y1="77.00" x2="364.30" y2="91.80" stroke="#ff2020" stroke-width="0.7" />
<polygon points="363.40,91.40 365.20,91.40 364.30,93.00" fill="#ff2020"/>
<text x="365.80" y="89.00" font-size="4.2" font-weight="bold" font-style="normal" text-anchor="start" fill="#1a1a1a" stroke="#1a1a1a" stroke-width="0.12" textLength="71.4" lengthAdjust="spacingAndGlyphs" >Clinical and radiological progression</text>
<line x1="577.00" y1="65.60" x2="577.00" y2="75.10" stroke="#5b9bd5" stroke-width="0.9" />
<rect x="557.20" y="75.10" width="39.30" height="22.90" fill="#fff" stroke="#8eb4e3" stroke-width="0.6" />
<text x="577.00" y="79.60" font-size="4.8" font-weight="bold" font-style="normal" text-anchor="middle" fill="#1a1a1a" stroke="#1a1a1a" stroke-width="0.2" textLength="29.0" lengthAdjust="spacingAndGlyphs" >ctDNA positive</text>
<text x="577.00" y="85.70" font-size="4.8" font-weight="bold" font-style="normal" text-anchor="middle" fill="#1a1a1a" stroke="#1a1a1a" stroke-width="0.2" textLength="21.2" lengthAdjust="spacingAndGlyphs" >NPM1::ALK</text>
<text x="577.00" y="91.70" font-size="4.8" font-weight="bold" font-style="normal" text-anchor="middle" fill="#1a1a1a" stroke="#1a1a1a" stroke-width="0.2" textLength="37.6" lengthAdjust="spacingAndGlyphs" >ALKp.(Phe1174Leu</text>
<text x="577.00" y="97.60" font-size="4.8" font-weight="bold" font-style="normal" text-anchor="middle" fill="#1a1a1a" stroke="#1a1a1a" stroke-width="0.2" >)</text>
<text x="317.50" y="238.00" font-size="6.3" font-weight="bold" font-style="italic" text-anchor="middle" fill="#d36f2a" stroke="#d36f2a" stroke-width="0.12" >ALK</text>
<text x="317.20" y="248.10" font-size="7.6" font-weight="bold" font-style="normal" text-anchor="middle" fill="#d36f2a" stroke="#d36f2a" stroke-width="0.12" >NM_004304.5</text>
<rect x="367.00" y="237.70" width="282.50" height="2.90" fill="#ed7d31" stroke="none" stroke-width="0" />
<rect x="351.70" y="232.70" width="15.40" height="11.60" fill="#ebaa80" stroke="#ed7d31" stroke-width="1.1" />
<rect x="649.60" y="232.90" width="27.50" height="11.60" fill="#ebaa80" stroke="#ed7d31" stroke-width="1.1" />
<text x="359.30" y="240.70" font-size="6.5" font-weight="normal" font-style="normal" text-anchor="middle" fill="#fff" style='font-family:"Liberation Serif", serif' >19</text>
<text x="663.30" y="240.90" font-size="6.5" font-weight="normal" font-style="normal" text-anchor="middle" fill="#fff" style='font-family:"Liberation Serif", serif' >20</text>
<polyline points="367.80,244.60 367.80,251.00 649.50,251.00 649.50,244.60" fill="none" stroke="#f5a3a3" stroke-width="0.7"/>
<line x1="508.30" y1="251.00" x2="508.30" y2="258.70" stroke="#f07070" stroke-width="0.7" />
<text x="508.50" y="267.50" font-size="4.8" font-weight="bold" font-style="normal" text-anchor="middle" fill="#222" stroke="#222" stroke-width="0.12" >1932 bp</text>
<line x1="367.60" y1="231.20" x2="367.60" y2="244.80" stroke="#f46a6a" stroke-width="0.7" />
<line x1="367.60" y1="231.20" x2="360.00" y2="225.20" stroke="#f46a6a" stroke-width="0.5" />
<text transform="translate(360.00,224.60) rotate(-58.5)" font-size="4.5" font-weight="bold" fill="#111" stroke="#111" stroke-width="0.1">ALCL_49 29446323</text>
<line x1="368.40" y1="231.20" x2="368.40" y2="244.80" stroke="#f46a6a" stroke-width="0.7" />
<line x1="368.40" y1="231.20" x2="365.60" y2="225.40" stroke="#f46a6a" stroke-width="0.5" />
<text transform="translate(365.60,224.80) rotate(-58.5)" font-size="4.5" font-weight="bold" fill="#111" stroke="#111" stroke-width="0.1">ALCL_51 29446290</text>
<line x1="370.50" y1="231.20" x2="370.50" y2="244.80" stroke="#f46a6a" stroke-width="0.7" />
<line x1="370.50" y1="231.20" x2="371.60" y2="225.20" stroke="#f46a6a" stroke-width="0.5" />
<text transform="translate(371.60,224.60) rotate(-58.5)" font-size="4.5" font-weight="bold" fill="#111" stroke="#111" stroke-width="0.1">ALCL_24 29446215</text>
<line x1="370.90" y1="231.20" x2="370.90" y2="244.80" stroke="#f46a6a" stroke-width="0.7" />
<line x1="370.90" y1="231.20" x2="377.40" y2="225.20" stroke="#f46a6a" stroke-width="0.5" />
<text transform="translate(377.40,224.60) rotate(-58.5)" font-size="4.5" font-weight="bold" fill="#111" stroke="#111" stroke-width="0.1">ALCL_17 29446101</text>
<line x1="371.20" y1="231.20" x2="371.20" y2="244.80" stroke="#f46a6a" stroke-width="0.7" />
<line x1="371.20" y1="231.20" x2="383.20" y2="225.40" stroke="#f46a6a" stroke-width="0.5" />
<text transform="translate(383.20,224.80) rotate(-58.5)" font-size="4.5" font-weight="bold" fill="#111" stroke="#111" stroke-width="0.1">ALCL_21 29446050</text>
<line x1="489.30" y1="231.20" x2="489.30" y2="244.80" stroke="#f46a6a" stroke-width="0.7" />
<line x1="489.30" y1="231.20" x2="492.40" y2="226.80" stroke="#f46a6a" stroke-width="0.5" />
<text transform="translate(492.40,226.20) rotate(-58.5)" font-size="4.5" font-weight="bold" fill="#111" stroke="#111" stroke-width="0.1">ALCL_38 29447402</text>
<line x1="517.70" y1="231.20" x2="517.70" y2="244.80" stroke="#f46a6a" stroke-width="0.7" />
<line x1="517.70" y1="231.20" x2="516.20" y2="225.80" stroke="#f46a6a" stroke-width="0.5" />
<text transform="translate(516.20,225.20) rotate(-58.5)" font-size="4.5" font-weight="bold" fill="#111" stroke="#111" stroke-width="0.1">ALCL_18 29447295</text>
<line x1="519.50" y1="231.20" x2="519.50" y2="244.80" stroke="#f46a6a" stroke-width="0.7" />
<line x1="519.50" y1="231.20" x2="521.40" y2="226.20" stroke="#f46a6a" stroke-width="0.5" />
<text transform="translate(521.40,225.60) rotate(-58.5)" font-size="4.5" font-weight="bold" fill="#111" stroke="#111" stroke-width="0.1">ALCL_13 29447288</text>
<line x1="523.30" y1="231.20" x2="523.30" y2="244.80" stroke="#f46a6a" stroke-width="0.7" />
<line x1="523.30" y1="231.20" x2="530.00" y2="225.80" stroke="#f46a6a" stroke-width="0.5" />
<text transform="translate(530.00,225.20) rotate(-58.5)" font-size="4.5" font-weight="bold" fill="#111" stroke="#111" stroke-width="0.1">ALCL_42 29447259</text>
<line x1="540.40" y1="231.20" x2="540.40" y2="244.80" stroke="#f46a6a" stroke-width="0.7" />
<line x1="540.40" y1="231.20" x2="544.00" y2="226.00" stroke="#f46a6a" stroke-width="0.5" />
<text transform="translate(544.00,225.40) rotate(-58.5)" font-size="4.5" font-weight="bold" fill="#111" stroke="#111" stroke-width="0.1">ALCL_30 29447141</text>
<line x1="578.30" y1="231.20" x2="578.30" y2="244.80" stroke="#f46a6a" stroke-width="0.7" />
<line x1="578.30" y1="231.20" x2="581.50" y2="226.20" stroke="#f46a6a" stroke-width="0.5" />
<text transform="translate(581.50,225.60) rotate(-58.5)" font-size="4.5" font-weight="bold" fill="#111" stroke="#111" stroke-width="0.1">ALCL_43 29446888</text>
<line x1="604.30" y1="231.20" x2="604.30" y2="244.80" stroke="#f46a6a" stroke-width="0.7" />
<line x1="604.30" y1="231.20" x2="607.50" y2="226.20" stroke="#f46a6a" stroke-width="0.5" />
<text transform="translate(607.50,225.60) rotate(-58.5)" font-size="4.5" font-weight="bold" fill="#111" stroke="#111" stroke-width="0.1">ALCL_23 29446706</text>
<line x1="626.60" y1="231.20" x2="626.60" y2="244.80" stroke="#f46a6a" stroke-width="0.7" />
<line x1="626.60" y1="231.20" x2="628.00" y2="225.60" stroke="#f46a6a" stroke-width="0.5" />
<text transform="translate(628.00,225.00) rotate(-58.5)" font-size="4.5" font-weight="bold" fill="#111" stroke="#111" stroke-width="0.1">ALCL_22 29446654</text>
<line x1="626.90" y1="231.20" x2="626.90" y2="244.80" stroke="#f46a6a" stroke-width="0.7" />
<line x1="626.90" y1="231.20" x2="634.00" y2="226.20" stroke="#f46a6a" stroke-width="0.5" />
<text transform="translate(634.00,225.60) rotate(-58.5)" font-size="4.5" font-weight="bold" fill="#111" stroke="#111" stroke-width="0.1">ALCL_50 29446613</text>
<text transform="translate(340.00,266.80) rotate(-56.5)" font-size="4.7" font-weight="bold" fill="#111" stroke="#111" stroke-width="0.1">29446831</text>
<text transform="translate(356.60,267.60) rotate(-56.5)" font-size="4.7" font-weight="bold" fill="#111" stroke="#111" stroke-width="0.1">29446327</text>
<text transform="translate(637.60,267.60) rotate(-56.5)" font-size="4.7" font-weight="bold" fill="#111" stroke="#111" stroke-width="0.1">29445394</text>
<text transform="translate(665.60,267.20) rotate(-56.5)" font-size="4.7" font-weight="bold" fill="#111" stroke="#111" stroke-width="0.1">29445208</text>
<text x="320.60" y="322.00" font-size="7.4" font-weight="bold" font-style="italic" text-anchor="middle" fill="#6aa845" stroke="#6aa845" stroke-width="0.12" >NPM1</text>
<text x="320.80" y="332.30" font-size="7.6" font-weight="bold" font-style="normal" text-anchor="middle" fill="#6aa845" stroke="#6aa845" stroke-width="0.12" >NM_002520.7</text>
<rect x="365.50" y="323.90" width="132.40" height="2.80" fill="#6cab44" stroke="none" stroke-width="0" />
<rect x="351.80" y="319.60" width="13.90" height="11.60" fill="#abd990" stroke="#6cab44" stroke-width="1.1" />
<rect x="498.00" y="319.40" width="15.20" height="11.60" fill="#abd990" stroke="#6cab44" stroke-width="1.1" />
<text x="358.70" y="327.60" font-size="6.5" font-weight="normal" font-style="normal" text-anchor="middle" fill="#fff" style='font-family:"Liberation Serif", serif' >4</text>
<text x="505.60" y="327.40" font-size="6.5" font-weight="normal" font-style="normal" text-anchor="middle" fill="#fff" style='font-family:"Liberation Serif", serif' >5</text>
<polyline points="366.20,331.40 366.20,337.90 497.50,337.90 497.50,331.40" fill="none" stroke="#c9d2c0" stroke-width="0.7"/>
<line x1="431.90" y1="337.90" x2="431.90" y2="345.50" stroke="#c0ccb4" stroke-width="0.8" />
<text x="432.30" y="354.60" font-size="4.8" font-weight="bold" font-style="normal" text-anchor="middle" fill="#222" stroke="#222" stroke-width="0.12" >910 bp</text>
<line x1="367.40" y1="318.00" x2="367.40" y2="331.20" stroke="#c8cfc0" stroke-width="0.6" />
<line x1="367.40" y1="318.00" x2="366.90" y2="311.80" stroke="#c8cfc0" stroke-width="0.5" />
<text transform="translate(366.90,311.20) rotate(-57)" font-size="4.45" font-weight="bold" fill="#111" stroke="#111" stroke-width="0.1">ALCL_38 170818814</text>
<line x1="376.50" y1="318.00" x2="376.50" y2="331.20" stroke="#c8cfc0" stroke-width="0.6" />
<line x1="376.50" y1="318.00" x2="375.90" y2="312.50" stroke="#c8cfc0" stroke-width="0.5" />
<text transform="translate(375.90,311.90) rotate(-57)" font-size="4.45" font-weight="bold" fill="#111" stroke="#111" stroke-width="0.1">ALCL_49 170818878</text>
<line x1="379.70" y1="318.00" x2="379.70" y2="331.20" stroke="#c8cfc0" stroke-width="0.6" />
<line x1="379.70" y1="318.00" x2="380.80" y2="313.00" stroke="#c8cfc0" stroke-width="0.5" />
<text transform="translate(380.80,312.40) rotate(-57)" font-size="4.45" font-weight="bold" fill="#111" stroke="#111" stroke-width="0.1">ALCL_18 170818899</text>
<line x1="384.60" y1="318.00" x2="384.60" y2="331.20" stroke="#c8cfc0" stroke-width="0.6" />
<line x1="384.60" y1="318.00" x2="386.00" y2="313.00" stroke="#c8cfc0" stroke-width="0.5" />
<text transform="translate(386.00,312.40) rotate(-57)" font-size="4.45" font-weight="bold" fill="#111" stroke="#111" stroke-width="0.1">ALCL_50 170818927</text>
<line x1="427.40" y1="318.00" x2="427.40" y2="331.20" stroke="#c8cfc0" stroke-width="0.6" />
<line x1="427.40" y1="318.00" x2="425.20" y2="312.50" stroke="#c8cfc0" stroke-width="0.5" />
<text transform="translate(425.20,311.90) rotate(-57)" font-size="4.45" font-weight="bold" fill="#111" stroke="#111" stroke-width="0.1">ALCL_51 170819224</text>
<line x1="428.80" y1="318.00" x2="428.80" y2="331.20" stroke="#c8cfc0" stroke-width="0.6" />
<line x1="428.80" y1="318.00" x2="430.30" y2="313.30" stroke="#c8cfc0" stroke-width="0.5" />
<text transform="translate(430.30,312.70) rotate(-57)" font-size="4.45" font-weight="bold" fill="#111" stroke="#111" stroke-width="0.1">ALCL_23 170819235</text>
<line x1="464.40" y1="318.00" x2="464.40" y2="331.20" stroke="#c8cfc0" stroke-width="0.6" />
<line x1="464.40" y1="318.00" x2="465.20" y2="312.50" stroke="#c8cfc0" stroke-width="0.5" />
<text transform="translate(465.20,311.90) rotate(-57)" font-size="4.45" font-weight="bold" fill="#111" stroke="#111" stroke-width="0.1">ALCL_13 170819477</text>
<line x1="468.10" y1="318.00" x2="468.10" y2="331.20" stroke="#c8cfc0" stroke-width="0.6" />
<line x1="468.10" y1="318.00" x2="468.60" y2="313.30" stroke="#c8cfc0" stroke-width="0.5" />
<text transform="translate(468.60,312.70) rotate(-57)" font-size="4.45" font-weight="bold" fill="#111" stroke="#111" stroke-width="0.1">ALCL_43 170819505</text>
<line x1="476.30" y1="318.00" x2="476.30" y2="331.20" stroke="#c8cfc0" stroke-width="0.6" />
<line x1="476.30" y1="318.00" x2="476.20" y2="313.30" stroke="#c8cfc0" stroke-width="0.5" />
<text transform="translate(476.20,312.70) rotate(-57)" font-size="4.45" font-weight="bold" fill="#111" stroke="#111" stroke-width="0.1">ALCL_50 170819537</text>
<line x1="488.40" y1="318.00" x2="488.40" y2="331.20" stroke="#c8cfc0" stroke-width="0.6" />
<line x1="488.40" y1="318.00" x2="489.60" y2="312.50" stroke="#c8cfc0" stroke-width="0.5" />
<text transform="translate(489.60,311.90) rotate(-57)" font-size="4.45" font-weight="bold" fill="#111" stroke="#111" stroke-width="0.1">ALCL_21 170819640</text>
<line x1="489.20" y1="318.00" x2="489.20" y2="331.20" stroke="#c8cfc0" stroke-width="0.6" />
<line x1="489.20" y1="318.00" x2="493.70" y2="313.30" stroke="#c8cfc0" stroke-width="0.5" />
<text transform="translate(493.70,312.70) rotate(-57)" font-size="4.45" font-weight="bold" fill="#111" stroke="#111" stroke-width="0.1">ALCL_42 170819648</text>
<text transform="translate(338.00,357.00) rotate(-57)" font-size="4.7" font-weight="bold" fill="#111" stroke="#111" stroke-width="0.1">170818710</text>
<text transform="translate(351.60,356.20) rotate(-57)" font-size="4.7" font-weight="bold" fill="#111" stroke="#111" stroke-width="0.1">170818803</text>
<text transform="translate(485.00,357.00) rotate(-57)" font-size="4.7" font-weight="bold" fill="#111" stroke="#111" stroke-width="0.1">170819734</text>
<text transform="translate(500.00,357.00) rotate(-57)" font-size="4.7" font-weight="bold" fill="#111" stroke="#111" stroke-width="0.1">170819820</text>
</svg></body></html>
